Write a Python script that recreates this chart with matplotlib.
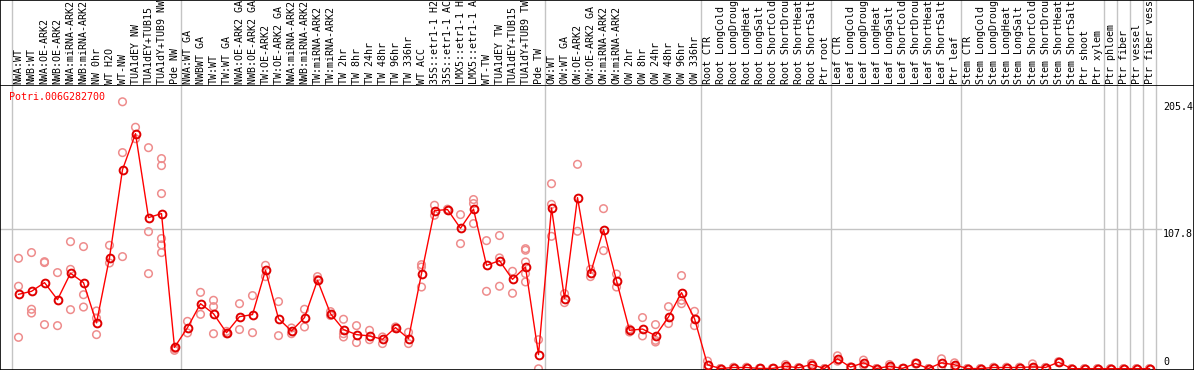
import numpy as np
import matplotlib
matplotlib.use("Agg")
import matplotlib.pyplot as plt
import matplotlib.transforms as mtransforms

# sample labels (as shown in the header, clipped at the top)
labels = ["NWA:WT", "NWB:WT", "NWA:OE-ARK2", "NWB:OE-ARK2", "NWA:miRNA-ARK2", "NWB:miRNA-ARK2",
          "NW 0hr", "WT H2O", "WT-NW", "TUA1dEY NW", "TUA1dEY+TUB15", "TUA1dY+TUB9 NW", "Pde NW",
          "NWA:WT GA", "NWBWT GA", "TW:WT", "TW:WT GA", "NWA:OE-ARK2 GA", "NWB:OE-ARK2 GA",
          "TW:OE-ARK2", "TW:OE-ARK2 GA", "NWA:miRNA-ARK2", "NWB:miRNA-ARK2", "TW:miRNA-ARK2",
          "TW:miRNA-ARK2", "TW 2hr", "TW 8hr", "TW 24hr", "TW 48hr", "TW 96hr", "TW 336hr",
          "WT ACC", "35S::etr1-1 H2", "35S::etr1-1 AC", "LMX5::etr1-1 H", "LMX5::etr1-1 A",
          "WT-TW", "TUA1dEY TW", "TUA1dEY+TUB15", "TUA1dY+TUB9 TW", "Pde TW",
          "OW:WT", "OW:WT GA", "OW:OE-ARK2", "OW:OE-ARK2 GA", "OW:miRNA-ARK2", "OW:miRNA-ARK2",
          "OW 2hr", "OW 8hr", "OW 24hr", "OW 48hr", "OW 96hr", "OW 336hr",
          "Root CTR", "Root LongCold", "Root LongDroug", "Root LongHeat", "Root LongSalt",
          "Root ShortCold", "Root ShortDrou", "Root ShortHeat", "Root ShortSalt", "Ptr root",
          "Leaf CTR", "Leaf LongCold", "Leaf LongDroug", "Leaf LongHeat", "Leaf LongSalt",
          "Leaf ShortCold", "Leaf ShortDrou", "Leaf ShortHeat", "Leaf ShortSalt", "Ptr leaf",
          "Stem CTR", "Stem LongCold", "Stem LongDroug", "Stem LongHeat", "Stem LongSalt",
          "Stem ShortCold", "Stem ShortDrou", "Stem ShortHeat", "Stem ShortSalt", "Ptr shoot",
          "Ptr xylem", "Ptr phloem", "Ptr fiber", "Ptr vessel", "Ptr fiber vess"]

# number of samples in each study (grey separators between them)
group_sizes = [13, 28, 12, 10, 10, 11, 1, 1, 1, 1]

means = [57.3, 59.6, 66.3, 53.2, 73.5, 66.3, 35.3, 85.5, 153.2, 180.9, 116.3, 119.4, 16.5,
         31.7, 50.1, 42.4, 27.8, 40.1, 41.7, 75.8, 38.6, 29.1, 39.4, 68.1, 42.4, 30.2, 26.3,
         25.3, 22.7, 31.7, 23.2, 73.2, 121.7, 122.5, 108.1, 122.8, 79.6, 83.2, 68.8, 78.3, 10.9,
         123.7, 54.0, 131.7, 73.5, 107.1, 67.8, 29.6, 30.6, 25.5, 39.9, 58.6, 38.6,
         3.1, 0.2, 1.0, 1.0, 0.3, 0.3, 2.0, 0.8, 3.3, 0.2,
         7.7, 1.3, 4.6, 0.2, 2.0, 0.3, 4.1, 0.2, 4.6, 3.1,
         0.2, 0.2, 1.0, 1.0, 1.0, 1.5, 1.0, 5.1, 0.1, 0.1,
         0.1, 0.1, 0.1, 0.1, 0.1]

replicates = [[85.0, 63.5, 24.2], [89.4, 45.8, 42.9], [82.4, 81.7, 34.0], [74.0, 33.2],
              [97.8, 76.5, 45.5], [94.0, 57.0, 47.5], [44.5, 39.0, 26.3], [95.0, 81.4],
              [205.4, 166.3, 86.3], [185.8, 177.0], [170.1, 105.5, 73.2],
              [161.7, 156.3, 134.8, 100.2, 95.3, 89.4], [15.5, 14.2],
              [36.5, 27.6], [58.8, 41.9], [52.7, 47.8, 27.0], [28.8, 27.0], [50.1, 30.2],
              [56.3, 27.8], [79.6, 70.9], [51.7, 25.5], [31.4, 27.0], [45.8, 32.2],
              [70.9, 68.6], [44.0, 41.0], [38.1, 27.0, 24.5], [33.2, 20.2], [29.6, 22.4],
              [24.5, 19.4], [32.2, 31.0], [28.1, 19.4], [80.1, 78.3, 62.9], [125.8, 118.1],
              [122.8, 122.0], [118.6, 96.3], [130.2, 127.1, 111.7], [98.6, 59.6],
              [102.5, 85.3, 63.5], [75.0, 58.1], [92.4, 91.2, 82.2, 73.2, 66.8], [22.4, 0.0],
              [142.4, 126.5, 101.9], [57.8, 50.9], [157.3, 105.8], [76.5, 70.9], [123.2, 90.9],
              [72.9, 62.9], [30.6, 28.3], [39.4, 25.3], [34.0, 21.9, 20.6], [47.8, 34.8],
              [71.7, 52.7, 50.1], [44.2, 33.2],
              [5.9, 0.3], [0.2, 0.2], [1.2, 0.8], [1.2, 0.8], [0.3, 0.3], [0.3, 0.3],
              [3.3, 0.7], [1.0, 0.6], [4.1, 2.5], [0.2, 0.2],
              [10.0, 5.9], [1.5, 1.1], [6.7, 2.6], [0.2, 0.2], [3.3, 0.7], [0.3, 0.3],
              [4.5, 3.7], [0.2, 0.2], [7.7, 1.5], [4.6, 1.6],
              [0.2, 0.2], [0.2, 0.2], [1.2, 0.8], [1.2, 0.8], [1.2, 0.8], [3.8, 0.2],
              [1.0, 1.0], [5.5, 4.7], [0.1, 0.1], [0.1, 0.1],
              [0.1, 0.1], [0.1, 0.1], [0.1, 0.1], [0.1, 0.1], [0.1, 0.1]]

gene = "Potri.006G282700"
ytick_vals = [205.4, 107.8, 0]

W, H = 1194, 370
font = "DejaVu Sans Mono"
fs = 7.2


def px_rect(x0, y0, x1, y1):
    return [x0 / W, 1 - y1 / H, (x1 - x0) / W, (y1 - y0) / H]


fig = plt.figure(figsize=(W / 100, H / 100), dpi=100)
head = fig.add_axes(px_rect(0, 0, W, 86))
ax = fig.add_axes(px_rect(0, 86, W, H))

# column i sits at pixel 18.5 + 13*i
xlim = (-18.5 / 13, (W - 18.5) / 13)
for a in (head, ax):
    a.set_xlim(*xlim)
    a.set_xticks([])
    a.set_yticks([])
    for s in a.spines.values():
        s.set_color("black")
        s.set_linewidth(1.2)
ax.spines["top"].set_visible(False)
head.set_ylim(0, 86)
# y pixel = 368.8 - 1.30 * value
ax.set_ylim((368.8 - H) / 1.30, (368.8 - 86) / 1.30)

# group separators
bounds = np.concatenate([[0], np.cumsum(group_sizes)]) - 0.5
for b in bounds:
    head.axvline(b, color="#c4c4c4", lw=1, zorder=0)
    ax.axvline(b, color="#c4c4c4", lw=1, zorder=0)
ax.axhline(ytick_vals[1], xmax=1161 / W, color="#c4c4c4", lw=1, zorder=0)

x = np.arange(len(labels))
for i, lab in enumerate(labels):
    head.text(i, 2.5, lab, rotation=90, ha="center", va="bottom", fontsize=fs,
              family=font, clip_on=True)

# replicates
rx = np.concatenate([[i] * len(r) for i, r in enumerate(replicates)])
ry = np.concatenate(replicates)
ax.scatter(rx, ry, s=30, facecolors="none", edgecolors="#ee8c8c", linewidths=1.1, zorder=2)
# means
ax.plot(x, means, "-o", color="#ff0000", lw=1, ms=5.6, mfc="none", mec="#e00000",
        mew=1.4, zorder=3)

trans = mtransforms.blended_transform_factory(ax.transAxes, ax.transData)
for v in ytick_vals:
    ax.text(1163 / W, v + (1.5 if v == 0 else 0), f"{v:g}", transform=trans, ha="left",
            va="bottom" if v == 0 else "top", fontsize=fs, family=font)

fig.text(9 / W, 1 - 97 / H, gene, color="#ff0000", ha="left", va="center", fontsize=fs,
         family=font)

fig.savefig("out.png", dpi=100)
